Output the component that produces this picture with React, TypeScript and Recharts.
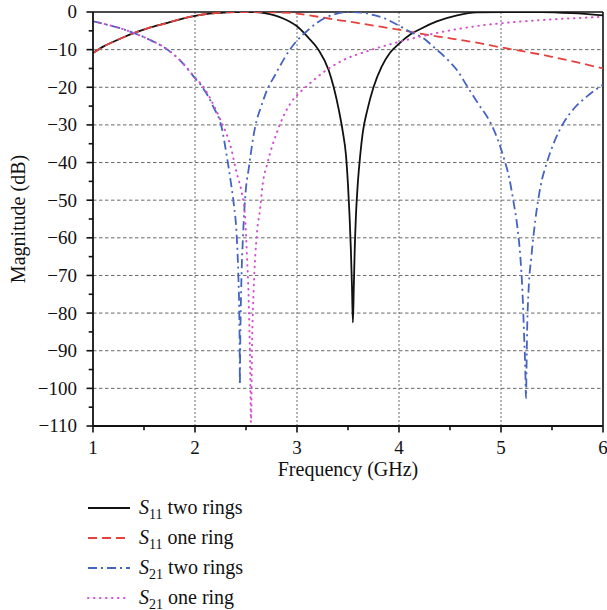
import React from 'react';
import { LineChart, Line, XAxis, YAxis, CartesianGrid, ReferenceLine, Legend } from 'recharts';

const FONT = 'Liberation Serif, DejaVu Serif, serif';

// Axis ticks
const xAllTicks = [1, 1.5, 2, 2.5, 3, 3.5, 4, 4.5, 5, 5.5, 6];
const xGridValues = [2, 3, 4, 5];
const yAllTicks = [0, -5, -10, -15, -20, -25, -30, -35, -40, -45, -50, -55, -60, -65, -70, -75, -80, -85, -90, -95, -100, -105, -110];
const yGridValues = [-10, -20, -30, -40, -50, -60, -70, -80, -90, -100];

// [frequency (GHz), magnitude (dB)]
const s11TwoRings: [number, number][] = [
  [1.0, -10.9], [1.1, -9.2], [1.2, -7.9], [1.3, -6.7], [1.4, -5.6], [1.55, -4.2], [1.73, -2.9], [1.87, -1.8],
  [2.0, -1.0], [2.2, -0.3], [2.4, 0], [2.55, 0], [2.68, -0.3], [2.78, -0.9], [2.87, -1.8], [2.93, -2.6],
  [3.0, -3.8], [3.1, -6.5], [3.21, -10], [3.31, -15.4], [3.36, -20], [3.41, -26], [3.45, -32], [3.48, -38],
  [3.5, -46], [3.515, -54], [3.528, -63], [3.539, -73], [3.548, -82.5], [3.557, -73], [3.566, -63], [3.578, -54],
  [3.595, -46], [3.62, -38], [3.645, -32], [3.69, -26], [3.75, -20], [3.83, -14.5], [3.91, -10.9], [4.01, -8.2],
  [4.11, -6.0], [4.21, -4.5], [4.37, -2.5], [4.57, -0.9], [4.76, -0.1], [5.0, 0], [5.4, 0], [5.7, -0.3], [6.0, -0.9],
];

const s11OneRing: [number, number][] = [
  [1.0, -10.9], [1.1, -9.2], [1.2, -7.9], [1.3, -6.7], [1.4, -5.6], [1.55, -4.2], [1.73, -2.9], [1.87, -1.8],
  [2.0, -1.0], [2.2, -0.3], [2.4, 0], [2.6, 0], [2.8, -0.1], [2.93, -0.2], [3.1, -0.8], [3.26, -1.5],
  [3.42, -2.2], [3.59, -2.9], [3.75, -3.6], [3.91, -4.3], [4.08, -5.1], [4.24, -5.9], [4.5, -7.0], [4.75, -8.1],
  [5.0, -9.4], [5.25, -10.6], [5.5, -11.9], [5.75, -13.4], [6.0, -15.0],
];

const s21TwoRings: [number, number][] = [
  [1.0, -2.5], [1.1, -3.1], [1.2, -3.8], [1.3, -4.6], [1.4, -5.6], [1.55, -7.3], [1.73, -10], [1.87, -13.3],
  [2.0, -17.6], [2.06, -19.5], [2.12, -22], [2.18, -25.2], [2.26, -30.5], [2.31, -38], [2.35, -45], [2.38, -51],
  [2.41, -60], [2.425, -70], [2.434, -80], [2.438, -90], [2.44, -99], [2.443, -89], [2.448, -80], [2.456, -70],
  [2.47, -60], [2.49, -50], [2.53, -41], [2.59, -30.5], [2.65, -25], [2.71, -20.5], [2.78, -17], [2.84, -14],
  [2.93, -10], [3.0, -7.6], [3.1, -5.0], [3.2, -2.8], [3.26, -1.8], [3.36, -0.7], [3.46, -0.1], [3.55, 0],
  [3.65, -0.2], [3.75, -0.8], [3.85, -1.6], [4.01, -3.8], [4.12, -5.4], [4.24, -7.0], [4.34, -9.3], [4.47, -12.5],
  [4.57, -15.5], [4.67, -19.8], [4.78, -24.5], [4.9, -29.6], [4.97, -34], [5.03, -39], [5.08, -44], [5.12, -50],
  [5.16, -57], [5.19, -65.2], [5.21, -74.1], [5.225, -84.8], [5.238, -95], [5.245, -102.6], [5.25, -95], [5.256, -84.8],
  [5.27, -74.1], [5.297, -65.2], [5.336, -55.4], [5.39, -46], [5.45, -40], [5.53, -34], [5.61, -29.6], [5.72, -25.5],
  [5.84, -22.5], [6.0, -19.3],
];

const s21OneRing: [number, number][] = [
  [1.0, -2.5], [1.1, -3.1], [1.2, -3.8], [1.3, -4.6], [1.4, -5.6], [1.55, -7.3], [1.73, -10], [1.87, -13.3],
  [2.0, -17.4], [2.08, -19.8], [2.18, -24.6], [2.25, -28.7], [2.35, -35.8], [2.41, -42.9], [2.46, -48.2], [2.49, -54],
  [2.51, -65], [2.526, -76], [2.54, -93], [2.549, -109], [2.559, -89], [2.575, -74], [2.608, -58.6], [2.64, -51.9],
  [2.66, -46.5], [2.71, -40.2], [2.8, -32.2], [2.93, -24.5], [3.03, -21.3], [3.1, -19.6], [3.29, -15.4], [3.46, -12.7],
  [3.69, -10.4], [3.91, -8.6], [4.2, -6.6], [4.5, -4.9], [4.83, -3.5], [5.0, -3.0], [5.48, -2.0], [6.0, -1.3],
];

const seriesNames = ['S11 two rings', 'S11 one ring', 'S21 two rings', 'S21 one ring'];
const seriesSubs = ['11', '11', '21', '21'];
const seriesSuffix = ['two rings', 'one ring', 'two rings', 'one ring'];
const seriesData = [s11TwoRings, s11OneRing, s21TwoRings, s21OneRing];

const seriesStyle = [
  { color: '#111111', dash: undefined as string | undefined, width: 1.8, cap: 'butt' },
  { color: '#e5423f', dash: '9 5', width: 1.8, cap: 'butt' },
  { color: '#4563c0', dash: '9 4 2 4', width: 1.8, cap: 'butt' },
  { color: '#d44fd0', dash: '0.5 5.5', width: 2, cap: 'round' },
];

const toRows = (arr: [number, number][]) => arr.map(([f, v]) => ({ f, v }));

const fmt = (v: number) => String(v).replace('-', '\u2212');

const YTick = (props: any) => {
  const { x, y, payload } = props;
  const v = payload.value as number;
  const major = v % 10 === 0;
  const axisX = x + 16;
  return (
    <g>
      <line x1={axisX - (major ? 6.5 : 4.3)} x2={axisX} y1={y} y2={y} stroke="#111" strokeWidth={1.6} />
      {major && (
        <text x={x} y={y} dy="0.34em" textAnchor="end" fontFamily={FONT} fontSize={19} fill="#111">
          {fmt(v)}
        </text>
      )}
    </g>
  );
};

const XTick = (props: any) => {
  const { x, y, payload } = props;
  const v = payload.value as number;
  const major = Number.isInteger(v);
  const axisY = y - 15;
  return (
    <g>
      <line x1={x} x2={x} y1={axisY} y2={axisY + (major ? 6.5 : 4.3)} stroke="#111" strokeWidth={1.6} />
      {major && (
        <text x={x} y={y} dy="0.71em" textAnchor="middle" fontFamily={FONT} fontSize={19} fill="#111">
          {fmt(v)}
        </text>
      )}
    </g>
  );
};

const XLabel = (props: any) => {
  const vb = props.viewBox;
  return (
    <text x={vb.x + vb.width / 2} y={vb.y + 50} textAnchor="middle" fontFamily={FONT} fontSize={20} fill="#111">
      Frequency (GHz)
    </text>
  );
};

const YLabel = (props: any) => {
  const vb = props.viewBox;
  const cx = vb.x - 8;
  const cy = vb.y + vb.height / 2;
  return (
    <text x={cx} y={cy} transform={`rotate(-90, ${cx}, ${cy})`} textAnchor="middle" fontFamily={FONT} fontSize={20} fill="#111">
      Magnitude (dB)
    </text>
  );
};

const LegendContent = () => (
  <div style={{ fontFamily: FONT, fontSize: 20, color: '#111' }}>
    {seriesNames.map((n, i) => {
      const st = seriesStyle[i];
      return (
        <div key={n} style={{ display: 'flex', alignItems: 'center', height: 30, lineHeight: '30px' }}>
          <svg width={46} height={10} style={{ display: 'block' }}>
            <line x1={2} x2={44} y1={5} y2={5} stroke={st.color} strokeWidth={st.width} strokeDasharray={st.dash} strokeLinecap={st.cap as any} />
          </svg>
          <span style={{ marginLeft: 7, whiteSpace: 'nowrap' }}>
            <i>S</i>
            <span style={{ fontSize: 14, position: 'relative', top: 5 }}>{seriesSubs[i]}</span>
            {' ' + seriesSuffix[i]}
          </span>
        </div>
      );
    })}
  </div>
);

export default function App() {
  return (
    <div style={{ position: 'absolute', left: 0, top: 0, background: '#fff', fontFamily: FONT }}>
      <LineChart width={607} height={610} margin={{ top: 12, right: 4, bottom: 124, left: 33 }} style={{ fontFamily: FONT }}>
        <CartesianGrid horizontal={true} vertical={false} horizontalValues={yGridValues} stroke="#6a6a6a" strokeDasharray="3.5 2.5" strokeWidth={1} />
        <CartesianGrid horizontal={false} vertical={true} verticalValues={xGridValues} stroke="#6a6a6a" strokeDasharray="2 2" strokeWidth={1} />
        <XAxis
          dataKey="f"
          type="number"
          domain={[1, 6]}
          ticks={xAllTicks}
          interval={0}
          allowDataOverflow
          height={60}
          tickLine={false}
          tickSize={0}
          tickMargin={15}
          tick={<XTick />}
          axisLine={{ stroke: '#111', strokeWidth: 1.8 }}
          label={XLabel}
        />
        <YAxis
          type="number"
          domain={[-110, 0]}
          ticks={yAllTicks}
          interval={0}
          allowDataOverflow
          width={60}
          tickLine={false}
          tickSize={0}
          tickMargin={16}
          tick={<YTick />}
          axisLine={{ stroke: '#111', strokeWidth: 1.8 }}
          label={YLabel}
        />
        <ReferenceLine y={0} stroke="#111" strokeWidth={1.6} ifOverflow="visible" />
        <ReferenceLine x={6} stroke="#111" strokeWidth={1.6} ifOverflow="visible" />
        {seriesData.map((d, i) => (
          <Line
            key={seriesNames[i]}
            name={seriesNames[i]}
            data={toRows(d)}
            dataKey="v"
            type="monotone"
            dot={false}
            activeDot={false}
            stroke={seriesStyle[i].color}
            strokeWidth={seriesStyle[i].width}
            strokeDasharray={seriesStyle[i].dash}
            strokeLinecap={seriesStyle[i].cap as any}
            isAnimationActive={false}
          />
        ))}
        <Legend
          layout="horizontal"
          verticalAlign="middle"
          align="center"
          content={LegendContent}
          wrapperStyle={{ top: 493, left: 86, width: 320, height: 120 }}
        />
      </LineChart>
    </div>
  );
}
